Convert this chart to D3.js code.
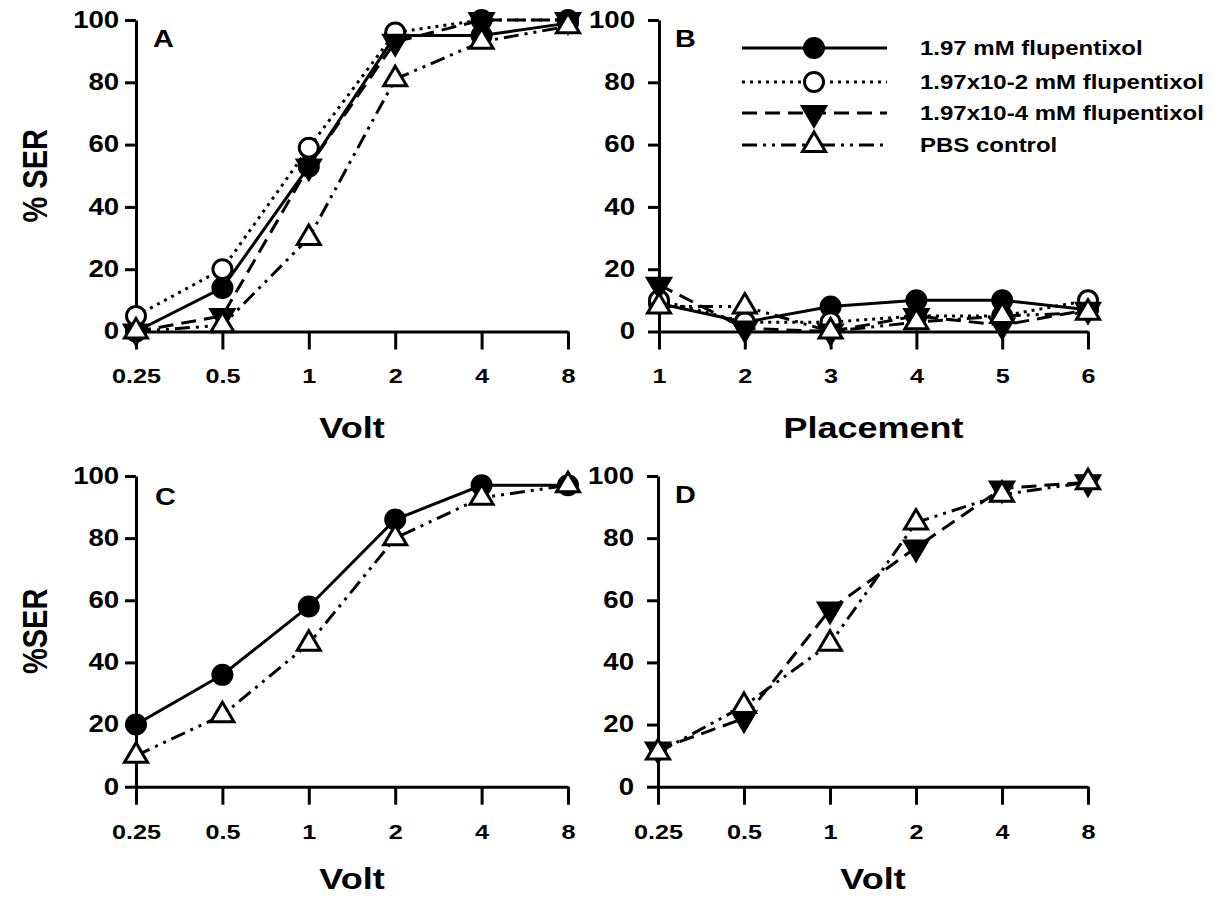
<!DOCTYPE html>
<html><head><meta charset="utf-8">
<script src="https://cdn.jsdelivr.net/npm/d3@7"></script>
<style>
body{margin:0;background:#fff}
text{font-family:"Liberation Sans",Arial,Helvetica,sans-serif;font-weight:bold;fill:#000}
</style>
</head><body>
<svg id="c" width="1222" height="899"></svg>
<script>
// ---------- data ----------
const voltLabels = ["0.25","0.5","1","2","4","8"];
const placementLabels = ["1","2","3","4","5","6"];
const yTicks = [0,20,40,60,80,100];

const seriesNames = ["1.97 mM flupentixol","1.97x10-2 mM flupentixol","1.97x10-4 mM flupentixol","PBS control"];

// Panel A (Volt)
const A_197   = [0, 14, 53, 95, 95, 99];
const A_e2    = [5, 20, 59, 96, 100, 100];
const A_e4    = [0, 5, 53, 93, 100, 100];
const A_pbs   = [0, 2, 30, 81, 93, 98];
// Panel B (Placement)
const B_197   = [9, 3, 8, 10, 10, 7];
const B_e2    = [10, 3, 3, 5, 5, 10];
const B_e4    = [15, 1, 0, 5, 2, 7];
const B_pbs   = [8, 8, 0, 3, 5, 6];
// Panel C (Volt)
const C_197   = [20, 36, 58, 86, 97, 97];
const C_pbs   = [10, 23, 46, 80, 93, 97];
// Panel D (Volt)
const D_e4    = [12, 22, 57, 77, 96, 98];
const D_pbs   = [11, 26, 46, 85, 94, 98];

// ---------- styles ----------
const styles = [
  {dash:null, marker:"circle", fill:"#000"},
  {dash:"3,5", marker:"circle", fill:"#fff"},
  {dash:"15,8", marker:"tridown", fill:"#000"},
  {dash:"15,6,3,6,3,6", marker:"triup", fill:"#fff"}
];

const panels = [
  {letter:"A", cats:voltLabels, x:[136,568], y:[331.5,20], letterPos:[153,47], ypad:3,
   xTitle:"Volt", yTitle:"% SER", titleOff:106,
   series:[{s:0,v:A_197},{s:1,v:A_e2},{s:2,v:A_e4},{s:3,v:A_pbs}]},
  {letter:"B", cats:placementLabels, x:[659,1088], y:[331.5,20], letterPos:[675,47], ypad:9,
   xTitle:"Placement", yTitle:null, titleOff:106,
   series:[{s:0,v:B_197},{s:1,v:B_e2},{s:2,v:B_e4},{s:3,v:B_pbs}]},
  {letter:"C", cats:voltLabels, x:[136,568], y:[786.7,476], letterPos:[155,505], ypad:3,
   xTitle:"Volt", yTitle:"%SER", titleOff:102,
   series:[{s:0,v:C_197},{s:3,v:C_pbs}]},
  {letter:"D", cats:voltLabels, x:[658,1088], y:[786.7,476], letterPos:[675,503], ypad:9,
   xTitle:"Volt", yTitle:null, titleOff:102,
   series:[{s:2,v:D_e4},{s:3,v:D_pbs}]}
];

const svg = d3.select("#c");
const SX = 1.2;

function markerPath(type){
  if(type==="circle"){
    const r=9.5; return `M${-r},0A${r},${r} 0 1,0 ${r},0A${r},${r} 0 1,0 ${-r},0Z`;
  }
  const w=11.5, h=19.5;
  if(type==="triup") return `M0,${-h*2/3}L${w},${h/3}L${-w},${h/3}Z`;
  return `M0,${h*2/3}L${w},${-h/3}L${-w},${-h/3}Z`;
}
function drawMarker(g, type, fill, x, y){
  g.append("path").attr("d", markerPath(type))
    .attr("transform", `translate(${x},${y})`)
    .attr("fill", fill).attr("stroke","#000").attr("stroke-width",3)
    .attr("stroke-linejoin","miter");
}

panels.forEach(p=>{
  const x = d3.scalePoint().domain(p.cats).range(p.x);
  const y = d3.scaleLinear().domain([0,100]).range(p.y);
  const g = svg.append("g");

  // y axis
  const ya = g.append("g").attr("transform",`translate(${p.x[0]},0)`)
    .call(d3.axisLeft(y).tickValues(yTicks).tickSize(11).tickSizeOuter(0).tickPadding(p.ypad));
  // x axis
  const xa = g.append("g").attr("transform",`translate(0,${p.y[0]})`)
    .call(d3.axisBottom(x).tickSize(18).tickSizeOuter(0).tickPadding(19));
  [ya,xa].forEach(a=>{
    a.selectAll("path,line").attr("stroke","#000").attr("stroke-width",3);
    a.selectAll("text").attr("fill","#000").style("font-family",'"Liberation Sans",Arial,sans-serif')
      .style("font-weight","bold");
  });
  ya.selectAll("text").style("font-size","23px").attr("transform",`scale(${SX},1)`);
  xa.selectAll("text").style("font-size","21px").attr("transform",`scale(${SX},1)`);

  // panel letter
  g.append("text").attr("transform",`translate(${p.letterPos[0]},${p.letterPos[1]}) scale(${SX},1)`)
    .style("font-size","24px").text(p.letter);

  // x title
  g.append("text").attr("text-anchor","middle")
    .attr("transform",`translate(${(p.x[0]+p.x[1])/2},${p.y[0]+p.titleOff}) scale(${SX},1)`)
    .style("font-size","30px").text(p.xTitle);

  // y title
  if(p.yTitle){
    g.append("text").attr("text-anchor","middle")
      .attr("transform",`translate(47,${(p.y[0]+p.y[1])/2}) rotate(-90) scale(1,${SX})`)
      .style("font-size","29px").text(p.yTitle);
  }

  // series
  const line = d3.line().x((d,i)=>x(p.cats[i])).y(d=>y(d));
  p.series.forEach(sr=>{
    const st = styles[sr.s];
    g.append("path").datum(sr.v).attr("d", line)
      .attr("fill","none").attr("stroke","#000").attr("stroke-width",3)
      .attr("stroke-dasharray", st.dash);
    sr.v.forEach((v,i)=> drawMarker(g, st.marker, st.fill, x(p.cats[i]), y(v)));
  });
});

// legend (in panel B)
const lg = svg.append("g");
const legY = [48, 82, 113, 145];
styles.forEach((st,i)=>{
  lg.append("line").attr("x1",742).attr("x2",887).attr("y1",legY[i]).attr("y2",legY[i])
    .attr("stroke","#000").attr("stroke-width",3).attr("stroke-dasharray",st.dash);
  drawMarker(lg, st.marker, st.fill, 814, legY[i]);
  lg.append("text").attr("transform",`translate(920,${legY[i]+7}) scale(${SX},1)`)
    .style("font-size","20px").text(seriesNames[i]);
});
</script>
</body></html>
